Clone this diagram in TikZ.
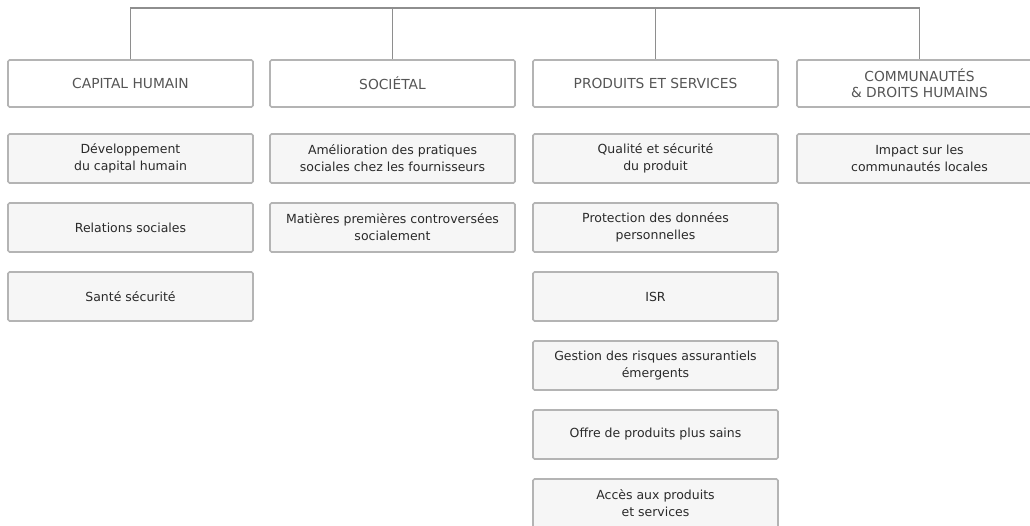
\documentclass[tikz,border=0pt]{standalone}
\usepackage{fontspec}
\setmainfont{DejaVu Sans}
\definecolor{linegray}{HTML}{8E8E8E}
\definecolor{boxgray}{HTML}{B4B4B4}
\definecolor{fillgray}{HTML}{F6F6F6}
\definecolor{headtext}{HTML}{555555}
\definecolor{bodytext}{HTML}{2A2A2A}
\tikzset{
  headbox/.style={draw=boxgray, line width=1.6pt, fill=white, rounded corners=1.5pt,
    minimum width=245pt, minimum height=47pt, inner sep=0pt, align=center,
    text=headtext, font=\fontsize{13.8}{15.7}\selectfont},
  subbox/.style={draw=boxgray, line width=1.6pt, fill=fillgray, rounded corners=1.5pt,
    minimum width=245pt, minimum height=49pt, inner sep=0pt, align=center,
    text=bodytext, font=\fontsize{12.5}{17}\selectfont},
  conn/.style={draw=linegray, line width=1.3pt}
}
\begin{document}
\begin{tikzpicture}[x=1pt,y=-1pt]
\useasboundingbox (0,0) rectangle (1030,526);
\clip (0,0) rectangle (1030,526);
% headers
\node[headbox] (h1) at (130.5,83.5) {CAPITAL HUMAIN};
\node[headbox] (h2) at (392.5,83.5) {SOCIÉTAL};
\node[headbox] (h3) at (655.5,83.5) {PRODUITS ET SERVICES};
\node[headbox] (h4) at (919.5,83.5) {COMMUNAUTÉS\\\& DROITS HUMAINS};
% connectors
\coordinate (t1) at (130.5,8);
\coordinate (t2) at (392.5,8);
\coordinate (t3) at (655.5,8);
\coordinate (t4) at (919.5,8);
\draw[conn] (h1.north) -- (t1) -- (t4) -- (h4.north);
\draw[conn] (h2.north) -- (t2);
\draw[conn] (h3.north) -- (t3);
% column 1
\node[subbox] (a1) at (130.5,158.5) {Développement\\du capital humain};
\node[subbox] (a2) at (130.5,227.5) {Relations sociales};
\node[subbox] (a3) at (130.5,296.5) {Santé sécurité};
% column 2
\node[subbox] (b1) at (392.5,158.5) {Amélioration des pratiques\\sociales chez les fournisseurs};
\node[subbox] (b2) at (392.5,227.5) {Matières premières controversées\\socialement};
% column 3
\node[subbox] (c1) at (655.5,158.5) {Qualité et sécurité\\du produit};
\node[subbox] (c2) at (655.5,227.5) {Protection des données\\personnelles};
\node[subbox] (c3) at (655.5,296.5) {ISR};
\node[subbox] (c4) at (655.5,365.5) {Gestion des risques assurantiels\\émergents};
\node[subbox] (c5) at (655.5,434.5) {Offre de produits plus sains};
\node[subbox] (c6) at (655.5,503.5) {Accès aux produits\\et services};
% column 4
\node[subbox] (d1) at (919.5,158.5) {Impact sur les\\communautés locales};
\end{tikzpicture}
\end{document}
